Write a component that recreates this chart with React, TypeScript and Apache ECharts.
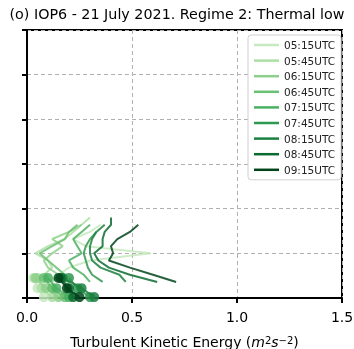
import React, { useEffect, useRef } from "react";
import * as echarts from "echarts";

const times = ["05:15UTC", "05:45UTC", "06:15UTC", "06:45UTC", "07:15UTC", "07:45UTC", "08:15UTC", "08:45UTC", "09:15UTC"];
const colors = ["#c7e9c0", "#addea6", "#8ed08b", "#6bc072", "#4bb062", "#2f984f", "#1b8040", "#0a6b30", "#00441b"];

// profile heights (m) for the line profiles
const profileHeights = [180, 260, 340, 420, 500, 580, 660, 740, 820, 900];
// TKE (m2 s-2) per time at profileHeights (null = no data)
const tke0515 = [0.1, 0.15, 0.2, 0.3, 0.59, 0.28, 0.22, 0.3, 0.35, null];
const tke0545 = [0.05, 0.08, 0.12, 0.1, 0.04, 0.1, 0.18, 0.22, 0.26, 0.3];
const tke0615 = [0.12, 0.15, 0.1, 0.08, 0.12, 0.17, 0.12, 0.2, 0.26, null];
const tke0645 = [0.15, 0.18, 0.14, 0.1, 0.06, 0.12, 0.18, 0.2, 0.24, null];
const tke0715 = [0.3, 0.27, 0.22, 0.2, 0.26, 0.24, 0.22, 0.26, 0.3, null];
const tke0745 = [0.36, 0.31, 0.29, 0.28, 0.27, 0.28, 0.3, 0.33, null, null];
const tke0815 = [0.47, 0.44, 0.35, 0.31, 0.3, 0.3, 0.31, 0.33, 0.37, null];
const tke0845 = [0.62, 0.49, 0.39, 0.34, 0.32, 0.36, 0.36, 0.37, 0.4, 0.4];
const tke0915 = [0.71, 0.6, 0.49, 0.39, 0.41, 0.4, 0.43, 0.49, 0.53, null];
const profiles = [tke0515, tke0545, tke0615, tke0645, tke0715, tke0745, tke0815, tke0845, tke0915];

// near-surface measurements (markers)
const surfaceHeights = [10, 110, 225];
const surf0515 = [0.08, 0.05, 0.03];
const surf0545 = [0.12, 0.07, 0.05];
const surf0615 = [0.15, 0.09, 0.04];
const surf0645 = [0.18, 0.12, 0.08];
const surf0715 = [0.2, 0.14, 0.1];
const surf0745 = [0.3, 0.24, 0.2];
const surf0815 = [0.32, 0.26, 0.17];
const surf0845 = [0.22, 0.2, 0.16];
const surf0915 = [0.25, 0.19, 0.15];
const surface = [surf0515, surf0545, surf0615, surf0645, surf0715, surf0745, surf0815, surf0845, surf0915];

export default function App() {
  const ref = useRef<HTMLDivElement>(null);
  useEffect(() => {
    if (!ref.current) return;
    const chart = echarts.init(ref.current, null, { renderer: "svg" });
    const font = "DejaVu Sans";
    const series: any[] = [];
    times.forEach((t, i) => {
      series.push({
        name: t,
        type: "line",
        data: profiles[i].map((v, k) => [v, profileHeights[k]]).filter((d) => d[0] !== null),
        symbol: "none",
        lineStyle: { color: colors[i], width: 2, opacity: 0.85 },
        itemStyle: { color: colors[i] },
        z: 2 + i,
      });
      series.push({
        name: t,
        type: "line",
        data: surface[i].map((v, k) => [v, surfaceHeights[k]]),
        symbol: "circle",
        symbolSize: 10,
        showSymbol: true,
        lineStyle: { color: colors[i], width: 2, opacity: 0.85 },
        itemStyle: { color: colors[i], opacity: 0.85 },
        z: 2 + i,
      });
    });
    chart.setOption({
      animation: false,
      title: {
        text: "(o) IOP6 - 21 July 2021. Regime 2: Thermal low",
        left: "center",
        top: 2,
        textStyle: { fontFamily: font, fontSize: 14.3, fontWeight: "normal", color: "#000" },
      },
      grid: {
        left: 27,
        right: 12,
        top: 30,
        bottom: 51,
        outerBoundsMode: "none",
        containLabel: false,
        show: true,
        borderColor: "#000",
        borderWidth: 2,
        backgroundColor: "transparent",
      },
      legend: {
        orient: "vertical",
        left: 248,
        top: 35,
        data: times,
        icon: "rect",
        itemWidth: 25,
        itemHeight: 2.5,
        itemGap: 3.6,
        padding: [4, 6, 4, 6],
        backgroundColor: "#fff",
        borderColor: "#d0d0d0",
        borderWidth: 1,
        borderRadius: 3,
        textStyle: { fontFamily: font, fontSize: 10.5, color: "#222", lineHeight: 12 },
      },
      xAxis: {
        type: "value",
        min: 0,
        max: 1.5,
        interval: 0.5,
        name: "{t|Turbulent Kinetic Energy (}{i|m}{s|2}{i|s}{s|−2}{t|)}",
        nameLocation: "middle",
        nameGap: 37,
        nameTextStyle: {
          rich: {
            t: { fontFamily: font, fontSize: 14, color: "#000", lineHeight: 14 },
            i: { fontFamily: font, fontSize: 14, fontStyle: "italic", color: "#000", lineHeight: 14 },
            s: { fontFamily: font, fontSize: 10, color: "#000", verticalAlign: "top", lineHeight: 14, padding: [0, 0, 6, 0] },
          },
        },
        axisLine: { show: true, lineStyle: { color: "#000", width: 2 } },
        axisTick: { show: true, inside: false, length: 5, lineStyle: { color: "#000", width: 2 } },
        axisLabel: {
          fontFamily: font,
          fontSize: 14,
          color: "#000",
          margin: 12,
          formatter: (v: number) => v.toFixed(1),
        },
        splitLine: { show: true, lineStyle: { color: "#b0b0b0", type: [4, 3], width: 1 } },
      },
      yAxis: {
        type: "value",
        min: 0,
        max: 3000,
        interval: 500,
        axisLine: { show: true, lineStyle: { color: "#000", width: 2 } },
        axisTick: { show: true, inside: false, length: 5, lineStyle: { color: "#000", width: 2 } },
        axisLabel: { show: false },
        splitLine: { show: true, lineStyle: { color: "#b0b0b0", type: [4, 3], width: 1 } },
      },
      series,
    });
    return () => chart.dispose();
  }, []);
  return <div ref={ref} style={{ position: "fixed", left: 0, top: 0, width: 354, height: 349 }} />;
}
